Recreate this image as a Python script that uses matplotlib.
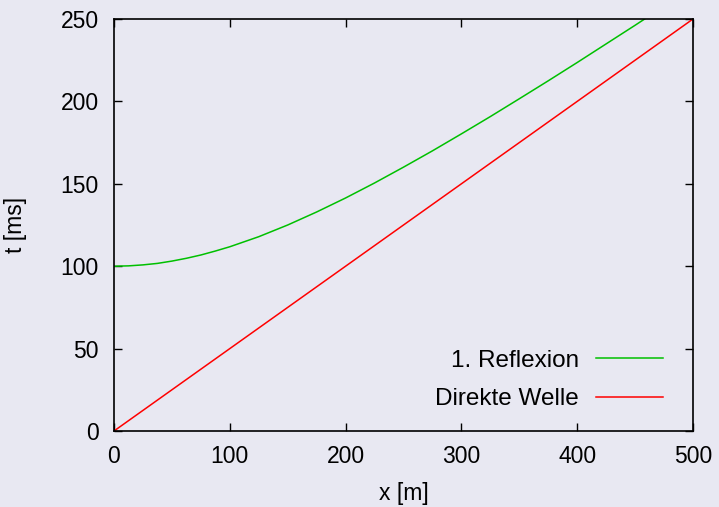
import matplotlib.pyplot as plt

plt.rcParams['font.family'] = ['Liberation Sans', 'DejaVu Sans']
plt.rcParams['font.size'] = 16.5

BG = '#e8e8f2'

# offset in metres
x_refl = [0, 12.5, 25, 37.5, 50, 62.5, 75, 87.5, 100, 125, 150, 175, 200,
          225, 250, 275, 300, 325, 350, 375, 400, 425, 450, 475]
# travel time of the first reflection in ms
t_refl = [100.0, 100.2, 100.8, 101.7, 103.1, 104.8, 106.8, 109.2, 111.8,
          117.9, 125.0, 132.9, 141.4, 150.5, 160.1, 170.0, 180.3, 190.8,
          201.6, 212.5, 223.6, 234.9, 246.2, 257.7]

x_direct = [0, 500]
t_direct = [0, 250]

fig = plt.figure(figsize=(7.19, 5.07), dpi=100, facecolor=BG)
ax = fig.add_axes([114 / 719, 1 - 431 / 507, 579 / 719, 412 / 507])
ax.set_facecolor(BG)

ax.plot(x_refl, t_refl, color='#00c000', lw=1.1, label='1. Reflexion')
ax.plot(x_direct, t_direct, color='#ff0000', lw=1.1, label='Direkte Welle')

ax.set_xlim(0, 500)
ax.set_ylim(0, 250)
ax.set_xticks(range(0, 501, 100))
ax.set_yticks(range(0, 251, 50))
ax.tick_params(direction='in', length=6, width=1, top=True, right=True,
               labelsize=16.5)
ax.tick_params(axis='y', pad=11)
ax.tick_params(axis='x', pad=10)
for s in ax.spines.values():
    s.set_linewidth(1.2)

ax.set_xlabel('x [m]', labelpad=10)
ax.set_ylabel('t [ms]', labelpad=24)

leg = ax.legend(loc='lower right', frameon=False, markerfirst=False,
                fontsize=17.5, handlelength=2.75, handletextpad=0.7,
                labelspacing=0.68, bbox_to_anchor=(0.948, 0.05),
                borderaxespad=0, borderpad=0)
for t in leg.get_texts():
    t.set_ha('right')

fig.savefig('out.png', dpi=100, facecolor=BG)
